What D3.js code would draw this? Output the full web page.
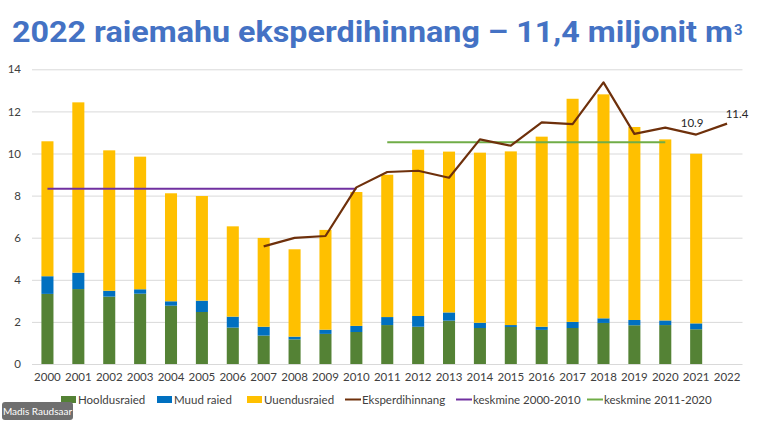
<!DOCTYPE html>
<html><head><meta charset="utf-8">
<script src="https://cdn.jsdelivr.net/npm/d3@7"></script>
<style>
html,body{margin:0;padding:0;background:#fff;}
svg{display:block;}
</style></head>
<body>
<svg id="c" width="768" height="424"></svg>
<script>
const years = ["2000","2001","2002","2003","2004","2005","2006","2007","2008","2009","2010","2011","2012","2013","2014","2015","2016","2017","2018","2019","2020","2021","2022"];
const hooldusraied = [3.33,3.56,3.20,3.34,2.77,2.47,1.73,1.35,1.17,1.43,1.52,1.85,1.77,2.06,1.71,1.76,1.62,1.71,1.95,1.84,1.85,1.65,null];
const muudRaied    = [0.84,0.78,0.28,0.21,0.21,0.54,0.52,0.42,0.13,0.20,0.29,0.38,0.51,0.39,0.25,0.09,0.15,0.29,0.22,0.25,0.22,0.28,null];
const uuendusraied = [6.41,8.09,6.67,6.30,5.13,4.97,4.29,4.22,4.15,4.74,6.36,6.76,7.90,7.64,8.08,8.25,9.03,10.60,10.64,9.17,8.60,8.06,null];
const expertYears = ["2007","2008","2009","2010","2011","2012","2013","2014","2015","2016","2017","2018","2019","2020","2021","2022"];
const eksperdihinnang = [5.59,5.99,6.08,8.39,9.12,9.18,8.85,10.67,10.37,11.48,11.40,13.38,10.93,11.23,10.90,11.42];
const avg1Years = ["2000","2010"]; const avg1Value = 8.33;
const avg2Years = ["2011","2020"]; const avg2Value = 10.53;
const valueLabels = [{year:"2021", value:10.9, text:"10.9", dx:-4, dy:-8}, {year:"2022", value:11.42, text:"11.4", dx:10, dy:-6}];
const yTicks = [0,2,4,6,8,10,12,14];
const seriesNames = ["Hooldusraied","Muud raied","Uuendusraied"];
const seriesColors = ["#548235","#0070C0","#FFC000"];

const svg = d3.select("#c");
const x = d3.scaleBand().domain(years).range([32, 742.5]).paddingInner(0.61).paddingOuter(0.305);
const y = d3.scaleLinear().domain([0,14]).range([364, 69.3]);
const cx = d => x(d) + x.bandwidth()/2;

// title
const title = svg.append("text").attr("x",12).attr("y",41.7)
  .attr("font-family","Roboto, 'Noto Sans', sans-serif").attr("font-weight","bold")
  .attr("font-size",29).attr("fill","#4472C4")
  .attr("textLength",721).attr("lengthAdjust","spacingAndGlyphs")
  .text("2022 raiemahu eksperdihinnang – 11,4 miljonit m");
svg.append("text").attr("x",734).attr("y",35)
  .attr("font-family","Roboto, 'Noto Sans', sans-serif").attr("font-weight","bold")
  .attr("font-size",15).attr("fill","#4472C4").text("3");

// grid
const yAxis = d3.axisLeft(y).tickValues(yTicks).tickSize(-(742.5-32)).tickFormat(d3.format("d"));
const gy = svg.append("g").attr("transform","translate(32,0)").call(yAxis);
gy.select(".domain").remove();
gy.selectAll(".tick line").attr("stroke","#D9D9D9").attr("stroke-width",1);
gy.selectAll(".tick text").attr("x",-11).attr("fill","#404040")
  .attr("font-family","Lato, 'Liberation Sans', sans-serif").attr("font-size",11.5);

// bars
const rows = years.map((yr,i)=>({year:yr, h:hooldusraied[i]||0, m:muudRaied[i]||0, u:uuendusraied[i]||0}));
const stack = d3.stack().keys(["h","m","u"])(rows);
svg.append("g").selectAll("g").data(stack).join("g").attr("fill",(d,i)=>seriesColors[i])
  .selectAll("rect").data(d=>d).join("rect")
  .attr("x",d=>x(d.data.year)).attr("width",x.bandwidth())
  .attr("y",d=>y(d[1])).attr("height",d=>Math.max(0,y(d[0])-y(d[1])));

// x axis labels
const xAxis = d3.axisBottom(x).tickSize(0).tickPadding(9);
const gx = svg.append("g").attr("transform","translate(0,364)").call(xAxis);
gx.select(".domain").remove();
gx.selectAll(".tick text").attr("fill","#404040")
  .attr("font-family","Lato, 'Liberation Sans', sans-serif").attr("font-size",11.5);

// average lines
svg.append("line").attr("x1",cx(avg1Years[0])).attr("x2",cx(avg1Years[1]))
  .attr("y1",y(avg1Value)).attr("y2",y(avg1Value)).attr("stroke","#7030A0").attr("stroke-width",2);
svg.append("line").attr("x1",cx(avg2Years[0])).attr("x2",cx(avg2Years[1]))
  .attr("y1",y(avg2Value)).attr("y2",y(avg2Value)).attr("stroke","#70AD47").attr("stroke-width",2);

// expert line
const line = d3.line().x((d,i)=>cx(expertYears[i])).y(d=>y(d));
svg.append("path").datum(eksperdihinnang).attr("d",line).attr("fill","none")
  .attr("stroke","#6E300B").attr("stroke-width",2.2).attr("stroke-linejoin","round");

// value labels
svg.append("g").selectAll("text").data(valueLabels).join("text")
  .attr("x",d=>cx(d.year)+d.dx).attr("y",d=>y(d.value)+d.dy).attr("text-anchor","middle")
  .attr("font-family","Lato, 'Liberation Sans', sans-serif").attr("font-size",11.5).attr("fill","#262626")
  .text(d=>d.text);

// legend
const legendItems = [
  {name:seriesNames[0], type:"rect", color:seriesColors[0], x:61},
  {name:seriesNames[1], type:"rect", color:seriesColors[1], x:157},
  {name:seriesNames[2], type:"rect", color:seriesColors[2], x:247},
  {name:"Eksperdihinnang", type:"line", color:"#6E300B", x:345},
  {name:"keskmine 2000-2010", type:"line", color:"#7030A0", x:456},
  {name:"keskmine 2011-2020", type:"line", color:"#70AD47", x:587}
];
const lg = svg.append("g");
legendItems.forEach(it=>{
  if(it.type==="rect") lg.append("rect").attr("x",it.x).attr("y",396).attr("width",15).attr("height",7).attr("fill",it.color);
  else lg.append("line").attr("x1",it.x).attr("x2",it.x+16).attr("y1",399.5).attr("y2",399.5).attr("stroke",it.color).attr("stroke-width",2);
  lg.append("text").attr("x",it.x+17).attr("y",403.5).attr("fill","#404040")
    .attr("font-family","Lato, 'Liberation Sans', sans-serif").attr("font-size",11.5).text(it.name);
});

// credit
svg.append("rect").attr("x",2).attr("y",402).attr("width",71).attr("height",18).attr("rx",3).attr("fill","#6F6F6F");
svg.append("text").attr("x",37.5).attr("y",414.5).attr("text-anchor","middle").attr("fill","#fff")
  .attr("font-family","Lato, 'Liberation Sans', sans-serif").attr("font-size",10).text("Madis Raudsaar");
</script>
</body></html>
